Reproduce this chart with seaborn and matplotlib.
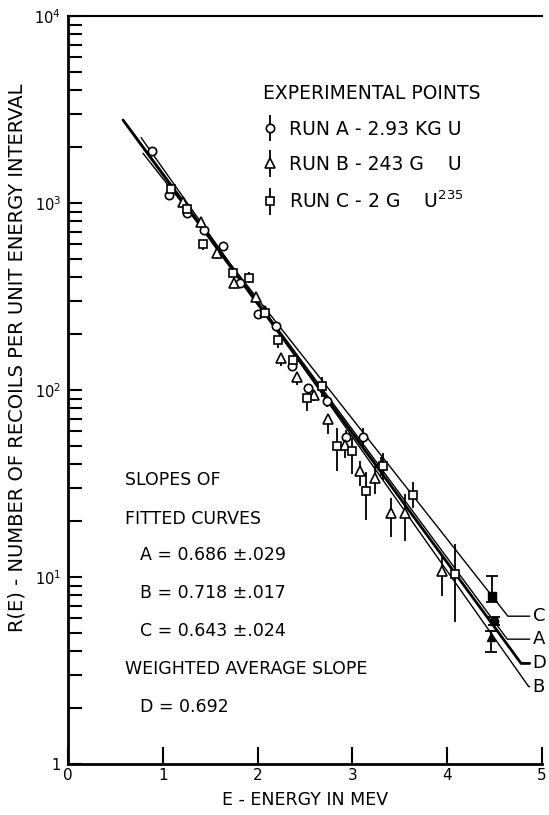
import numpy as np
import pandas as pd
import seaborn as sns
import matplotlib.pyplot as plt
from matplotlib.container import ErrorbarContainer
from matplotlib.legend_handler import HandlerErrorbar

# Experimental points: energy (MeV), R(E), log10 error below / above
run_a_e = [0.89, 1.07, 1.25, 1.43, 1.63, 1.81, 2.00, 2.19, 2.36, 2.53, 2.73, 2.93, 3.11, 3.30]
run_a_r = [1890, 1100, 880, 715, 590, 375, 254, 220, 135, 103, 87, 56, 56, 39]
run_a_lo = [0.0, 0.02, 0.02, 0.02, 0.03, 0.02, 0.02, 0.02, 0.02, 0.02, 0.03, 0.04, 0.06, 0.05]
run_a_hi = [0.0, 0.02, 0.02, 0.02, 0.02, 0.02, 0.02, 0.02, 0.02, 0.02, 0.03, 0.04, 0.05, 0.05]

run_b_e = [1.21, 1.40, 1.57, 1.75, 1.98, 2.08, 2.25, 2.42, 2.59, 2.74, 2.92, 3.08, 3.24, 3.41, 3.55, 3.95]
run_b_r = [1010, 795, 537, 374, 313, 264, 148, 117, 94, 70, 51, 37, 34, 22, 22, 10.7]
run_b_lo = [0.02, 0.02, 0.03, 0.02, 0.03, 0.02, 0.04, 0.04, 0.03, 0.08, 0.07, 0.08, 0.09, 0.13, 0.15, 0.13]
run_b_hi = [0.02, 0.02, 0.02, 0.02, 0.02, 0.02, 0.02, 0.02, 0.02, 0.02, 0.04, 0.05, 0.06, 0.08, 0.10, 0.09]

run_c_e = [1.09, 1.26, 1.42, 1.74, 1.91, 2.08, 2.22, 2.37, 2.52, 2.68, 2.84, 3.00, 3.14, 3.32, 3.64, 4.08]
run_c_r = [1190, 925, 604, 421, 399, 257, 184, 144, 91, 105, 50, 47, 29, 39, 27.5, 10.4]
run_c_lo = [0.02, 0.02, 0.03, 0.02, 0.03, 0.02, 0.04, 0.02, 0.07, 0.06, 0.13, 0.12, 0.16, 0.07, 0.07, 0.26]
run_c_hi = [0.02, 0.02, 0.02, 0.02, 0.03, 0.02, 0.02, 0.02, 0.02, 0.05, 0.10, 0.07, 0.10, 0.07, 0.07, 0.16]

# end points (filled markers), order A, B, C
end_e = [4.49, 4.46, 4.47]
end_r = [5.8, 4.8, 7.9]
end_lo = [0.02, 0.08, 0.03]
end_hi = [0.02, 0.03, 0.11]

# Fitted curves: log10 R = intercept - slope * E
curve_names = ['A', 'B', 'C', 'D']
curve_slopes = [0.686, 0.718, 0.643, 0.692]
curve_intercepts = [3.846, 3.903, 3.774, 3.845]
curve_start = [0.62, 0.77, 0.79, 0.58]
curve_label_r = [4.65, 2.59, 6.17, 3.45]
curve_end = 4.87

y_ticks = [1, 10, 100, 1000, 10000]
y_ticklabels = ['1', '$10^1$', '$10^2$', '$10^3$', '$10^4$']
x_ticks = [0, 1, 2, 3, 4, 5]

sns.set_theme(style='ticks')
plt.rcParams['font.family'] = ['DejaVu Sans']
plt.rcParams['mathtext.default'] = 'regular'
plt.rcParams['text.color'] = 'black'
plt.rcParams['axes.labelcolor'] = 'black'

fig = plt.figure(figsize=(5.49, 8.15), dpi=100)
ax = fig.add_axes([0.1239, 0.0626, 0.8634, 0.9178])
ax.set_yscale('log')

# fitted lines, running along the exponential then a short leader to the letter
rows = []
for name, s, b, e0, lr in zip(curve_names, curve_slopes, curve_intercepts, curve_start, curve_label_r):
    bend = (b - np.log10(lr)) / s
    rows.append((name, e0, 10 ** (b - s * e0)))
    rows.append((name, bend, lr))
    rows.append((name, curve_end, lr))
lines = pd.DataFrame(rows, columns=['curve', 'E', 'R'])
sns.lineplot(data=lines, x='E', y='R', hue='curve', size='curve',
             palette={n: 'black' for n in curve_names},
             sizes={'A': 1.0, 'B': 1.0, 'C': 1.0, 'D': 2.0},
             sort=False, estimator=None, legend=False, ax=ax)

for name, lr in zip(curve_names, curve_label_r):
    ax.text(4.9, lr, name, fontsize=13, va='center', ha='left', clip_on=False)


def yerr(r, lo, hi):
    r = np.asarray(r, dtype=float)
    return [r * (1 - 10 ** -np.asarray(lo)), r * (10 ** np.asarray(hi) - 1)]


style = dict(ls='none', color='black', mfc='white', mec='black', mew=1.2, elinewidth=1.3, capsize=0)
ha = ax.errorbar(run_a_e, run_a_r, yerr=yerr(run_a_r, run_a_lo, run_a_hi), fmt='o', ms=6, **style)
hb = ax.errorbar(run_b_e, run_b_r, yerr=yerr(run_b_r, run_b_lo, run_b_hi), fmt='^', ms=6.5, **style)
hc = ax.errorbar(run_c_e, run_c_r, yerr=yerr(run_c_r, run_c_lo, run_c_hi), fmt='s', ms=5.5, **style)

for e, r, lo, hi, m in zip(end_e, end_r, end_lo, end_hi, ['o', '^', 's']):
    ax.errorbar([e], [r], yerr=yerr([r], [lo], [hi]), fmt=m, ms=6, color='black',
                mfc='black', elinewidth=1.3, capsize=4, capthick=1.3)

leg = ax.legend([ha, hb, hc],
                ['RUN A - 2.93 KG U', 'RUN B - 243 G    U', 'RUN C - 2 G    U$^{235}$'],
                title='EXPERIMENTAL POINTS', loc='upper left', bbox_to_anchor=(0.411, 0.909),
                frameon=False, fontsize=13.5, title_fontsize=13.5, alignment='left',
                borderpad=0, borderaxespad=0, labelspacing=0.88, handlelength=0.8,
                handletextpad=0.6,
                handler_map={ErrorbarContainer: HandlerErrorbar(yerr_size=0.7)})
for t in leg.get_texts():
    t.set_color('black')
leg.get_title().set_color('black')

# slope annotations
notes = [('SLOPES OF', 0.120, 0.380), ('FITTED CURVES', 0.120, 0.3275),
         ('A = 0.686 ±.029', 0.152, 0.279), ('B = 0.718 ±.017', 0.152, 0.2286),
         ('C = 0.643 ±.024', 0.152, 0.178), ('WEIGHTED AVERAGE SLOPE', 0.120, 0.127),
         ('D = 0.692', 0.152, 0.076)]
for txt, x, y in notes:
    ax.text(x, y, txt, transform=ax.transAxes, fontsize=12.5, va='center', ha='left')

ax.set_xlim(0, 5)
ax.set_ylim(1, 10000)
ax.set_xticks(x_ticks)
ax.set_xticklabels([str(t) for t in x_ticks], fontsize=11)
ax.set_yticks(y_ticks)
ax.set_yticklabels(y_ticklabels, fontsize=10.5)
ax.tick_params(axis='x', which='major', direction='in', length=12, width=1.5, pad=3, colors='black')
ax.tick_params(axis='y', which='both', direction='in', length=10, width=1.5, pad=5, colors='black')
ax.xaxis.set_minor_locator(plt.NullLocator())

for side in ['left', 'bottom']:
    ax.spines[side].set_linewidth(2)
    ax.spines[side].set_color('black')
ax.spines['top'].set_linewidth(1.5)
ax.spines['top'].set_color('black')
ax.spines['right'].set_visible(False)

ax.set_xlabel('E - ENERGY IN MEV', fontsize=12.5)
ax.set_ylabel('R(E) - NUMBER OF RECOILS PER UNIT ENERGY INTERVAL', fontsize=14)
ax.xaxis.set_label_coords(0.5, -0.036)
ax.yaxis.set_label_coords(-0.088, 0.543)

fig.savefig('out.png', dpi=100)
